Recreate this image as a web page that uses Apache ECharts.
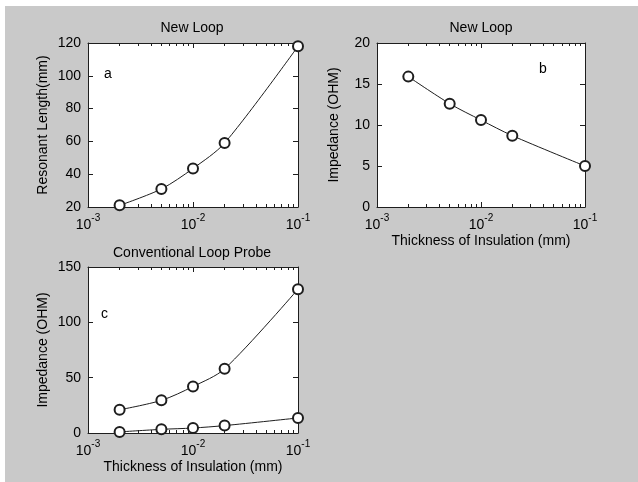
<!DOCTYPE html>
<html>
<head>
<meta charset="utf-8">
<script src="https://cdn.jsdelivr.net/npm/echarts@6/dist/echarts.min.js"></script>
<style>
  html, body { margin: 0; padding: 0; background: #fff; }
  #chart { position: absolute; left: 5px; top: 6px; width: 633px; height: 476px; }
</style>
</head>
<body>
<div id="chart"></div>
<script>
// thickness of insulation (mm), shared by all three panels
var thickness = [0.002, 0.005, 0.01, 0.02, 0.1];
// panel a: new loop, resonant length (mm)
var resonantLength = [21, 31, 43.5, 59, 118];
// panel b: new loop, impedance (OHM)
var newLoopImpedance = [15.9, 12.6, 10.6, 8.7, 5.0];
// panel c: conventional loop probe, impedance (OHM)
var convUpper = [21, 29.5, 42, 58, 130];
var convLower = [1, 3.3, 4.5, 6.7, 13.6];

var minorTicks = [0.002, 0.003, 0.004, 0.005, 0.006, 0.007, 0.008, 0.009,
                  0.02, 0.03, 0.04, 0.05, 0.06, 0.07, 0.08, 0.09];

var ink = "#1e1e1e";
var font = "Liberation Sans";
var fs = 14;

function pairs(xs, ys) {
  return xs.map(function (x, i) { return [x, ys[i]]; });
}

var gridBox = { show: true, backgroundColor: "#fff", borderWidth: 0 };
var grids = [
  Object.assign({ left: 83, top: 37, width: 210, height: 164 }, gridBox),
  Object.assign({ left: 372, top: 37, width: 208, height: 164 }, gridBox),
  Object.assign({ left: 83, top: 261, width: 210, height: 166 }, gridBox)
];

var xAxes = [];
var yAxes = [];

function addX(gi, name) {
  var base = {
    gridIndex: gi, type: "log", logBase: 10, min: 0.001, max: 0.1,
    splitLine: { show: false }
  };
  // bottom, with labels
  xAxes.push(Object.assign({}, base, {
    position: "bottom",
    axisLine: { show: true, lineStyle: { color: ink, width: 1 } },
    axisTick: { show: true, inside: true, length: 5, lineStyle: { color: ink } },
    axisLabel: {
      margin: 6, color: "#000", fontFamily: font, fontSize: fs,
      formatter: function (v) {
        var e = Math.round(Math.log10(v));
        return "{b|10}{s|" + e + "}";
      },
      rich: {
        b: { fontSize: fs, fontFamily: font, color: "#000", lineHeight: 19, verticalAlign: "bottom" },
        s: { fontSize: 10, fontFamily: font, color: "#000", lineHeight: 10, verticalAlign: "top" }
      }
    },
    name: name || "",
    nameLocation: "middle",
    nameGap: 27,
    nameTextStyle: { color: "#000", fontFamily: font, fontSize: fs }
  }));
  // bottom minor ticks
  xAxes.push(Object.assign({}, base, {
    position: "bottom",
    axisLine: { show: false },
    axisTick: { show: true, inside: true, length: 3, customValues: minorTicks, lineStyle: { color: ink } },
    axisLabel: { show: false }
  }));
  // top box edge
  xAxes.push(Object.assign({}, base, {
    position: "top",
    axisLine: { show: true, lineStyle: { color: ink, width: 1 } },
    axisTick: { show: true, inside: true, length: 5, lineStyle: { color: ink } },
    axisLabel: { show: false }
  }));
  xAxes.push(Object.assign({}, base, {
    position: "top",
    axisLine: { show: false },
    axisTick: { show: true, inside: true, length: 3, customValues: minorTicks, lineStyle: { color: ink } },
    axisLabel: { show: false }
  }));
  return xAxes.length - 4;
}

function addY(gi, min, max, interval, name, gap) {
  var base = {
    gridIndex: gi, type: "value", min: min, max: max, interval: interval,
    splitLine: { show: false },
    axisLine: { show: true, lineStyle: { color: ink, width: 1 } },
    axisTick: { show: true, inside: true, length: 5, lineStyle: { color: ink } }
  };
  yAxes.push(Object.assign({}, base, {
    position: "left",
    axisLabel: { margin: 7, color: "#000", fontFamily: font, fontSize: fs },
    name: name, nameLocation: "middle", nameGap: gap,
    nameTextStyle: { color: "#000", fontFamily: font, fontSize: fs }
  }));
  yAxes.push(Object.assign({}, base, {
    position: "right",
    axisLabel: { show: false }
  }));
  return yAxes.length - 2;
}

var xa = addX(0, "");
var ya = addY(0, 20, 120, 20, "Resonant Length(mm)", 38);
var xb = addX(1, "Thickness of Insulation (mm)");
var yb = addY(1, 0, 20, 5, "Impedance (OHM)", 36);
var xc = addX(2, "Thickness of Insulation (mm)");
var yc = addY(2, 0, 150, 50, "Impedance (OHM)", 38);

function lineSeries(xi, yi, data) {
  return {
    type: "line",
    xAxisIndex: xi, yAxisIndex: yi,
    data: data,
    smooth: 0.3,
    symbol: "emptyCircle",
    symbolSize: 10,
    lineStyle: { color: ink, width: 1 },
    itemStyle: { color: ink, borderColor: ink, borderWidth: 1 },
    animation: false
  };
}

var titleStyle = { color: "#000", fontFamily: font, fontSize: fs, fontWeight: "normal" };

var option = {
  backgroundColor: "#c9c9c9",
  animation: false,
  title: [
    { text: "New Loop", left: 187, top: 15, textAlign: "center", padding: 0, textStyle: titleStyle },
    { text: "New Loop", left: 476, top: 15, textAlign: "center", padding: 0, textStyle: titleStyle },
    { text: "Conventional Loop Probe", left: 187, top: 240, textAlign: "center", padding: 0, textStyle: titleStyle }
  ],
  grid: grids,
  xAxis: xAxes,
  yAxis: yAxes,
  series: [
    lineSeries(xa, ya, pairs(thickness, resonantLength)),
    lineSeries(xb, yb, pairs(thickness, newLoopImpedance)),
    lineSeries(xc, yc, pairs(thickness, convUpper)),
    lineSeries(xc, yc, pairs(thickness, convLower))
  ],
  graphic: [
    { type: "text", left: 99, top: 61, style: { text: "a", fill: "#000", font: fs + "px " + font } },
    { type: "text", left: 534, top: 56, style: { text: "b", fill: "#000", font: fs + "px " + font } },
    { type: "text", left: 96, top: 301, style: { text: "c", fill: "#000", font: fs + "px " + font } }
  ]
};

var myChart = echarts.init(document.getElementById("chart"));
myChart.setOption(option);
</script>
</body>
</html>
